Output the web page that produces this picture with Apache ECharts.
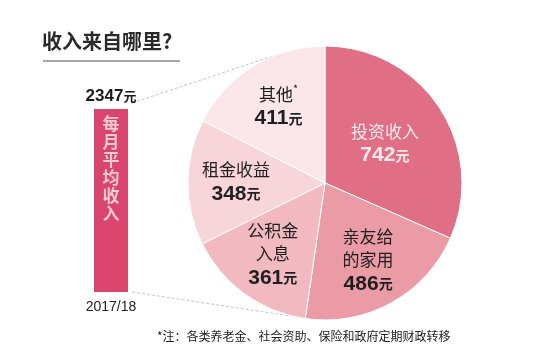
<!DOCTYPE html>
<html><head><meta charset="utf-8">
<script src="https://cdn.jsdelivr.net/npm/echarts@6/dist/echarts.min.js"></script>
<style>html,body{margin:0;padding:0;background:#fff}#c{width:548px;height:356px}</style>
</head><body><div id="c"></div>
<script>
const categories = ['投资收入', '亲友给\n的家用', '公积金\n入息', '租金收益', '其他*'];
const values = [742, 486, 361, 348, 411];
const sliceColors = ['#e06f86', '#eb9ba6', '#f2b9c0', '#f7d5d9', '#fbe7ea'];
const totalIncome = [2347];
const period = ['2017/18'];
const barLabel = '每月平均收入';
const titleText = '收入来自哪里?';
const noteText = '*注：各类养老金、社会资助、保险和政府定期财政转移';

const FONT = '"Noto Sans CJK SC", sans-serif';
const NUMF = 'Liberation Sans, Arial, sans-serif';
const chart = echarts.init(document.getElementById('c'));
function mkRich(col) {
  return {
    n: {fontSize: 17, color: col, lineHeight: 23, fontFamily: FONT},
    s: {fontSize: 11, color: col, lineHeight: 23, fontFamily: FONT, verticalAlign: 'top'},
    v: {fontSize: 21, fontWeight: 'bold', color: col, lineHeight: 25, fontFamily: NUMF},
    u: {fontSize: 14, fontWeight: 'bold', color: col, lineHeight: 25, fontFamily: FONT}
  };
}
const rich = mkRich('#1f1f1f');
const richW = mkRich('#fde9ec');
function fmt(p) {
  const lines = p.name.split('\n').map(s => s.endsWith('*') ? '{n|' + s.slice(0, -1) + '}{s|*}' : '{n|' + s + '}');
  return lines.join('\n') + '\n{v|' + p.value + '}{u|元}';
}
const center = [325, 183];
chart.setOption({
  animation: false,
  textStyle: {fontFamily: FONT},
  grid: {left: 94, width: 34, top: 109, height: 183},
  xAxis: {type: 'category', data: period, axisLine: {show: false}, axisTick: {show: false},
    axisLabel: {color: '#222', fontSize: 14, margin: 8, fontFamily: NUMF}},
  yAxis: {type: 'value', min: 0, max: totalIncome[0], show: false},
  series: [
    {type: 'bar', data: totalIncome, barWidth: 34, itemStyle: {color: '#d9456c'},
      label: {show: true, position: 'insideTop', distance: 6,
        formatter: barLabel.split('').join('\n'),
        color: '#f7c9d3', fontSize: 17, fontWeight: 'bold', lineHeight: 18, fontFamily: FONT}},
    {type: 'bar', data: totalIncome, barWidth: 34, barGap: '-100%', itemStyle: {color: 'transparent'},
      label: {show: true, position: 'top', distance: 4,
        formatter: p => '{v|' + p.value + '}{u|元}',
        rich: {v: {fontSize: 17, fontWeight: 'bold', color: '#1a1a1a', fontFamily: NUMF},
               u: {fontSize: 13, fontWeight: 'bold', color: '#1a1a1a', fontFamily: FONT}}}},
    {type: 'pie', center: center, radius: [0, 137], startAngle: 90, clockwise: true,
      itemStyle: {borderColor: '#fff', borderWidth: 1},
      label: {show: false}, labelLine: {show: false}, emphasis: {disabled: true},
      data: categories.map((c, i) => ({name: c, value: values[i], itemStyle: {color: sliceColors[i]},
        label: i === 0 ? {show: true, position: 'inside', formatter: fmt, rich: richW} : {show: false}}))},
    {type: 'pie', center: center, radius: [0, 172], startAngle: 90, clockwise: true, silent: true,
      itemStyle: {color: 'transparent', borderWidth: 0},
      labelLine: {show: false}, emphasis: {disabled: true},
      label: {show: true, position: 'inside', formatter: fmt, rich: rich},
      data: categories.map((c, i) => ({name: c, value: values[i],
        label: i === 0 ? {show: false} : {}}))}
  ],
  graphic: [
    {type: 'text', left: 42, top: 31, style: {text: titleText, fontSize: 20, fontWeight: 'bold', fill: '#2a2a2a', fontFamily: FONT}},
    {type: 'line', shape: {x1: 43, y1: 61, x2: 180, y2: 61}, style: {stroke: '#8a8a8a', lineWidth: 1.5}},
    {type: 'line', shape: {x1: 132, y1: 103, x2: 282, y2: 53}, style: {stroke: '#c4c4c4', lineWidth: 1, lineDash: [3, 2]}},
    {type: 'line', shape: {x1: 132, y1: 292, x2: 304, y2: 318}, style: {stroke: '#c4c4c4', lineWidth: 1, lineDash: [3, 2]}},
    {type: 'text', left: 157, top: 330, style: {text: noteText, fontSize: 12, fill: '#222', fontFamily: FONT}}
  ]
});
</script></body></html>
